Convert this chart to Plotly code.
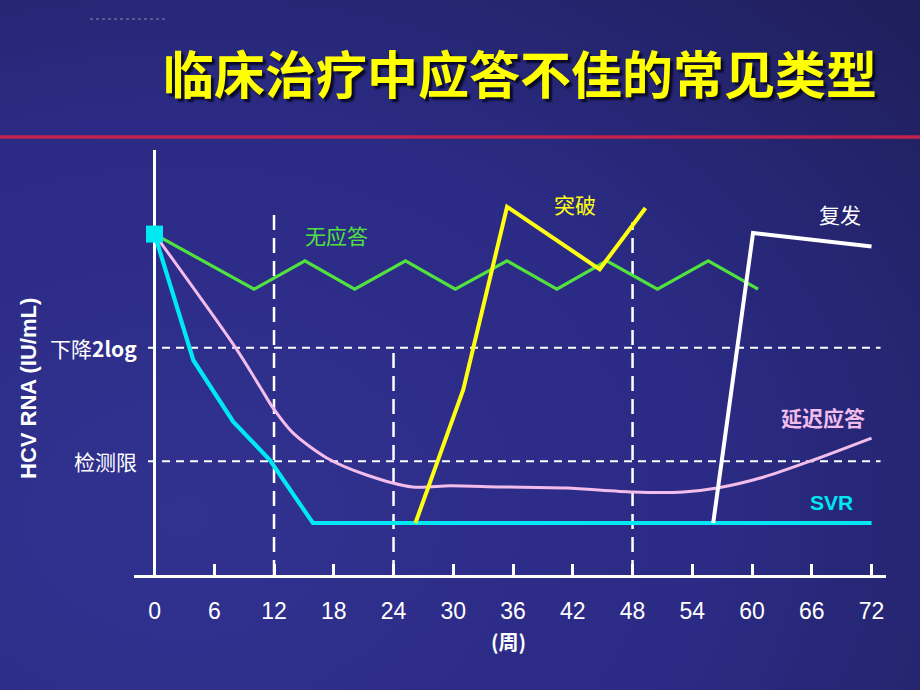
import base64
import plotly.graph_objects as go

# ---------------- data ----------------
weeks_ticks = [0, 6, 12, 18, 24, 30, 36, 42, 48, 54, 60, 66, 72]

start_x = [0]
start_y = [6.0]

nr_x = [0, 10.0, 15.1, 20.1, 25.2, 30.2, 35.4, 40.4, 45.4, 50.5, 55.6, 60.6]
nr_y = [6.0, 5.03, 5.53, 5.03, 5.53, 5.03, 5.53, 5.03, 5.53, 5.03, 5.53, 5.03]

svr_x = [0, 3.9, 7.9, 11.6, 15.9, 72.0]
svr_y = [6.0, 3.78, 2.70, 2.02, 0.915, 0.915]

dr_x = [0, 8.1, 10.6, 11.9, 13.9, 17.3, 21.3, 25.9, 29.7, 34.7, 41.4, 48.0, 53.1, 56.5, 61.1, 66.1, 72.0]
dr_y = [6.0, 4.01, 3.31, 2.94, 2.50, 2.06, 1.76, 1.55, 1.57, 1.55, 1.53, 1.46, 1.46, 1.53, 1.72, 2.02, 2.41]

bt_x = [26.2, 31.0, 35.4, 44.7, 49.3]
bt_y = [0.915, 3.26, 6.48, 5.38, 6.46]

rl_x = [56.1, 60.1, 72.0]
rl_y = [0.915, 6.02, 5.78]

vline_x = [12, 24, 48]
vline_top = [6.42, 4.01, 6.21]

hline_y = [4.0, 2.0]
hline_labels = ["下降<b>2log</b>", "检测限"]

series_labels = ["无应答", "突破", "复发", "<b>延迟应答</b>", "<b>SVR</b>"]
label_x = [18.3, 42.2, 68.8, 67.1, 68.0]
label_y = [5.98, 6.53, 6.35, 2.78, 1.28]

title_text = "临床治疗中应答不佳的常见类型"
y_title = "HCV RNA (IU/mL)"
x_unit = "(周)"

# ---------------- styles ----------------
GREEN = "#52E23E"
CYAN = "#00E8F2"
PINK = "#F2BDEB"
YELLOW = "#FFFF10"
WHITE = "#FFFFFF"
CJK = "Noto Sans CJK SC, Liberation Sans, Arial, sans-serif"
LAT = "Liberation Sans, Arial, sans-serif"

W, H = 920, 690
ML, MR, MT, MB = 134, 34, 150, 115
PW, PH = W - ML - MR, H - MT - MB

svg = f'''<svg xmlns="http://www.w3.org/2000/svg" width="{W}" height="{H}">
<defs><radialGradient id="g" cx="0.2" cy="0.75" r="1.15">
<stop offset="0" stop-color="#313190"/><stop offset="0.5" stop-color="#2B2B85"/>
<stop offset="1" stop-color="#1D1D56"/></radialGradient></defs>
<rect width="{W}" height="{H}" fill="url(#g)"/></svg>'''
bg_uri = "data:image/svg+xml;base64," + base64.b64encode(svg.encode()).decode()

fig = go.Figure()

def line(x, y, color, width, shape="linear"):
    fig.add_trace(go.Scatter(x=x, y=y, mode="lines",
                             line=dict(color=color, width=width, shape=shape,
                                       smoothing=0.8 if shape == "spline" else None),
                             hoverinfo="skip", showlegend=False, cliponaxis=False))

line(dr_x, dr_y, PINK, 3, "spline")
line(nr_x, nr_y, GREEN, 3.2)
line(svr_x, svr_y, CYAN, 4.2)
line(bt_x, bt_y, YELLOW, 4)
line(rl_x, rl_y, WHITE, 4)

fig.add_trace(go.Scatter(x=start_x, y=start_y, mode="markers",
                         marker=dict(symbol="square", size=17, color=CYAN),
                         hoverinfo="skip", showlegend=False, cliponaxis=False))

shapes = []
for xv, top in zip(vline_x, vline_top):
    shapes.append(dict(type="line", xref="x", yref="y", x0=xv, x1=xv, y0=0, y1=top,
                       line=dict(color=WHITE, width=2.5, dash="15px,8px"), layer="below"))
for yv in hline_y:
    shapes.append(dict(type="line", xref="x", yref="y", x0=-0.65, x1=72.9, y0=yv, y1=yv,
                       line=dict(color=WHITE, width=2, dash="8px,6px"), layer="below"))
# red separator line
shapes.append(dict(type="line", xref="paper", yref="paper", x0=-ML / PW, x1=(PW + MR) / PW,
                   y0=(575 - 137) / PH, y1=(575 - 137) / PH,
                   line=dict(color="#C3224C", width=3.5)))
# tiny dotted mark top-left
shapes.append(dict(type="line", xref="paper", yref="paper", x0=(90 - ML) / PW, x1=(166 - ML) / PW,
                   y0=(575 - 19) / PH, y1=(575 - 19) / PH,
                   line=dict(color="#8888AA", width=1, dash="dot")))

annotations = []
for txt, yv in zip(hline_labels, hline_y):
    annotations.append(dict(x=-1.55, y=yv, xref="x", yref="y", text=txt, showarrow=False,
                            xanchor="right", yanchor="middle",
                            font=dict(family=CJK, size=21, color=WHITE)))
colors = [GREEN, YELLOW, WHITE, PINK, CYAN]
fonts = [CJK, CJK, CJK, CJK, LAT]
for txt, xv, yv, c, f in zip(series_labels, label_x, label_y, colors, fonts):
    annotations.append(dict(x=xv, y=yv, xref="x", yref="y", text=txt, showarrow=False,
                            xanchor="center", yanchor="middle",
                            font=dict(family=f, size=21, color=c)))
annotations.append(dict(x=(28 - ML) / PW, y=(575 - 389) / PH, xref="paper", yref="paper",
                        text=f"<b>{y_title}</b>", textangle=-90, showarrow=False,
                        xanchor="center", yanchor="middle",
                        font=dict(family=LAT, size=22, color=WHITE)))
annotations.append(dict(x=35.5, y=(575 - 641) / PH, xref="x", yref="paper",
                        text=f"<b>{x_unit}</b>", showarrow=False,
                        xanchor="center", yanchor="middle",
                        font=dict(family=CJK, size=20, color=WHITE)))
annotations.append(dict(x=(520 - ML) / PW, y=(575 - 72) / PH, xref="paper", yref="paper",
                        text=f"<b>{title_text}</b>", showarrow=False,
                        xanchor="center", yanchor="middle",
                        font=dict(family=CJK, size=51, color="#FFFF00",
                                  shadow="3px 3px 2px #0A0A28")))

fig.update_layout(
    width=W, height=H,
    margin=dict(l=ML, r=MR, t=MT, b=MB, pad=0),
    paper_bgcolor="#2A2A82",
    plot_bgcolor="rgba(0,0,0,0)",
    shapes=shapes, annotations=annotations,
    images=[dict(source=bg_uri, xref="paper", yref="paper", x=-ML / PW, y=1 + MT / PH,
                 sizex=W / PW, sizey=H / PH, sizing="stretch", xanchor="left",
                 yanchor="top", layer="below")],
    xaxis=dict(range=[-2.06, 73.45], tickmode="array", tickvals=weeks_ticks,
               ticktext=[str(v) for v in weeks_ticks],
               ticks="inside", ticklen=11, tickwidth=2.5, tickcolor=WHITE,
               showline=True, linecolor=WHITE, linewidth=3,
               zeroline=True, zerolinecolor=WHITE, zerolinewidth=3,
               showgrid=False, ticklabelstandoff=13,
               tickfont=dict(family=LAT, size=23, color=WHITE), fixedrange=True),
    yaxis=dict(range=[0, 7.48], showticklabels=False, showgrid=False, zeroline=False,
               showline=False, ticks="", fixedrange=True),
    showlegend=False,
)

fig.write_html("out.html")
